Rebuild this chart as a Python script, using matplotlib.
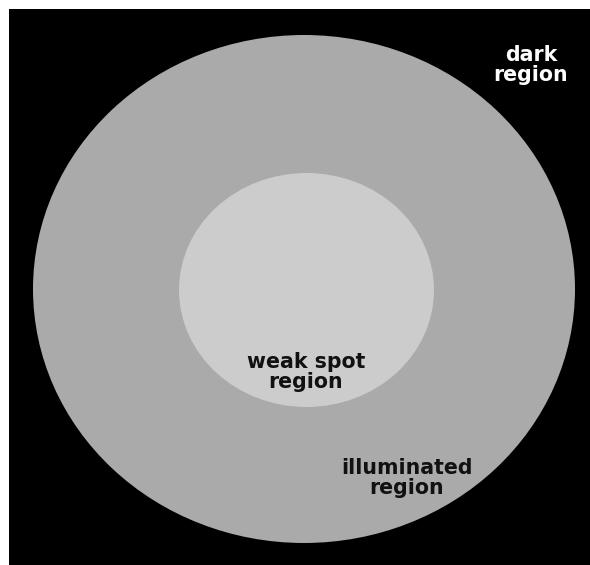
import matplotlib
matplotlib.use("Agg")
import matplotlib.pyplot as plt
from matplotlib.patches import Ellipse, Rectangle

# Regions (label, text colour, label centre in px)
labels = ["dark\nregion", "weak spot\nregion", "illuminated\nregion"]
label_colors = ["#ffffff", "#111111", "#111111"]
label_x = [531, 306, 407]
label_y = [65, 372, 478]

# Region geometry (px): centre x, centre y, width, height, colour
region_names = ["illuminated", "weak spot"]
region_cx = [304, 306.5]
region_cy = [289, 290]
region_w = [542, 255]
region_h = [508, 234]
region_colors = ["#aaaaaa", "#cccccc"]

W, H = 590, 565
fig = plt.figure(figsize=(W / 100, H / 100), dpi=100)
ax = fig.add_axes([0, 0, 1, 1])
ax.set_xlim(0, W)
ax.set_ylim(H, 0)
ax.axis("off")

ax.add_patch(Rectangle((9, 9), W - 9, H - 9, facecolor="black", edgecolor="none"))
for cx, cy, w, h, c in zip(region_cx, region_cy, region_w, region_h, region_colors):
    ax.add_patch(Ellipse((cx, cy), w, h, facecolor=c, edgecolor="none"))

for t, c, x, y in zip(labels, label_colors, label_x, label_y):
    ax.text(x, y, t, color=c, ha="center", va="center", fontsize=14.8,
            fontweight="bold", family="DejaVu Sans", linespacing=1.0)

fig.savefig("out.png", dpi=100)
